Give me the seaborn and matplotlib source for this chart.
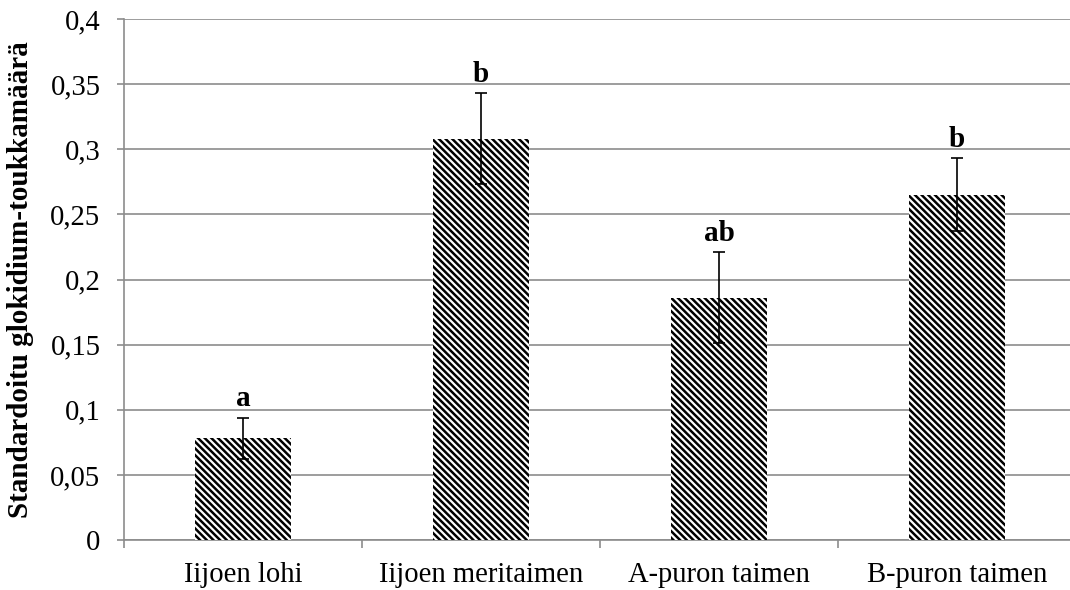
import matplotlib
matplotlib.use("Agg")
import matplotlib.pyplot as plt
import seaborn as sns
from matplotlib.ticker import FixedLocator, FuncFormatter

# Group names, means, standard errors and significance letters
categories = ["Iijoen lohi", "Iijoen meritaimen", "A-puron taimen", "B-puron taimen"]
means = [0.078, 0.308, 0.186, 0.265]
errors = [0.016, 0.035, 0.035, 0.028]
letters = ["a", "b", "ab", "b"]
y_ticks = [0, 0.05, 0.1, 0.15, 0.2, 0.25, 0.3, 0.35, 0.4]

sns.set_theme(style="white")
plt.rcParams["font.family"] = ["Liberation Serif", "DejaVu Serif"]
plt.rcParams["hatch.linewidth"] = 0.9

DPI = 200
fig = plt.figure(figsize=(1070 / DPI, 590 / DPI), dpi=DPI)
ax = fig.add_axes([124 / 1070, 50 / 590, 952 / 1070, 521 / 590])

grey = "#8c8c8c"

sns.barplot(x=categories, y=means, ax=ax, width=0.4, color="white",
            edgecolor="black", linewidth=0, hatch="\\" * 10, zorder=3)

ax.errorbar(range(len(categories)), means, yerr=errors, fmt="none",
            ecolor="black", elinewidth=0.6, capsize=2.0, capthick=0.6, zorder=4)

for i, (m, e, t) in enumerate(zip(means, errors, letters)):
    ax.text(i, m + e + 0.004, t, ha="center", va="bottom",
            fontsize=10.5, fontweight="bold", color="black", zorder=5)

ax.set_xlim(-0.5, len(categories) - 0.5)
ax.set_ylim(0, 0.4)
ax.yaxis.set_major_locator(FixedLocator(y_ticks))
ax.yaxis.set_major_formatter(FuncFormatter(lambda v, p: f"{v:g}".replace(".", ",")))

ax.grid(axis="y", color=grey, linewidth=0.6, zorder=0)
ax.set_axisbelow(True)

for side in ("top", "right"):
    ax.spines[side].set_visible(False)
for side in ("left", "bottom"):
    ax.spines[side].set_color(grey)
    ax.spines[side].set_linewidth(0.6)

ax.tick_params(axis="y", which="major", direction="out", length=2.5, width=0.6,
               color=grey, labelsize=10.3, labelcolor="black", pad=6, left=True)
ax.tick_params(axis="x", which="major", length=0, labelsize=10.3,
               labelcolor="black", pad=8)
ax.xaxis.set_minor_locator(FixedLocator([-0.5, 0.5, 1.5, 2.5, 3.5]))
ax.tick_params(axis="x", which="minor", direction="out", length=2.7, width=0.6,
               color=grey, bottom=True)

ax.set_xlabel("")
ax.set_ylabel("Standardoitu glokidium-toukkamäärä", fontsize=10.5,
              fontweight="bold", color="black", labelpad=6)

fig.savefig("out.png", dpi=DPI, facecolor="white")
